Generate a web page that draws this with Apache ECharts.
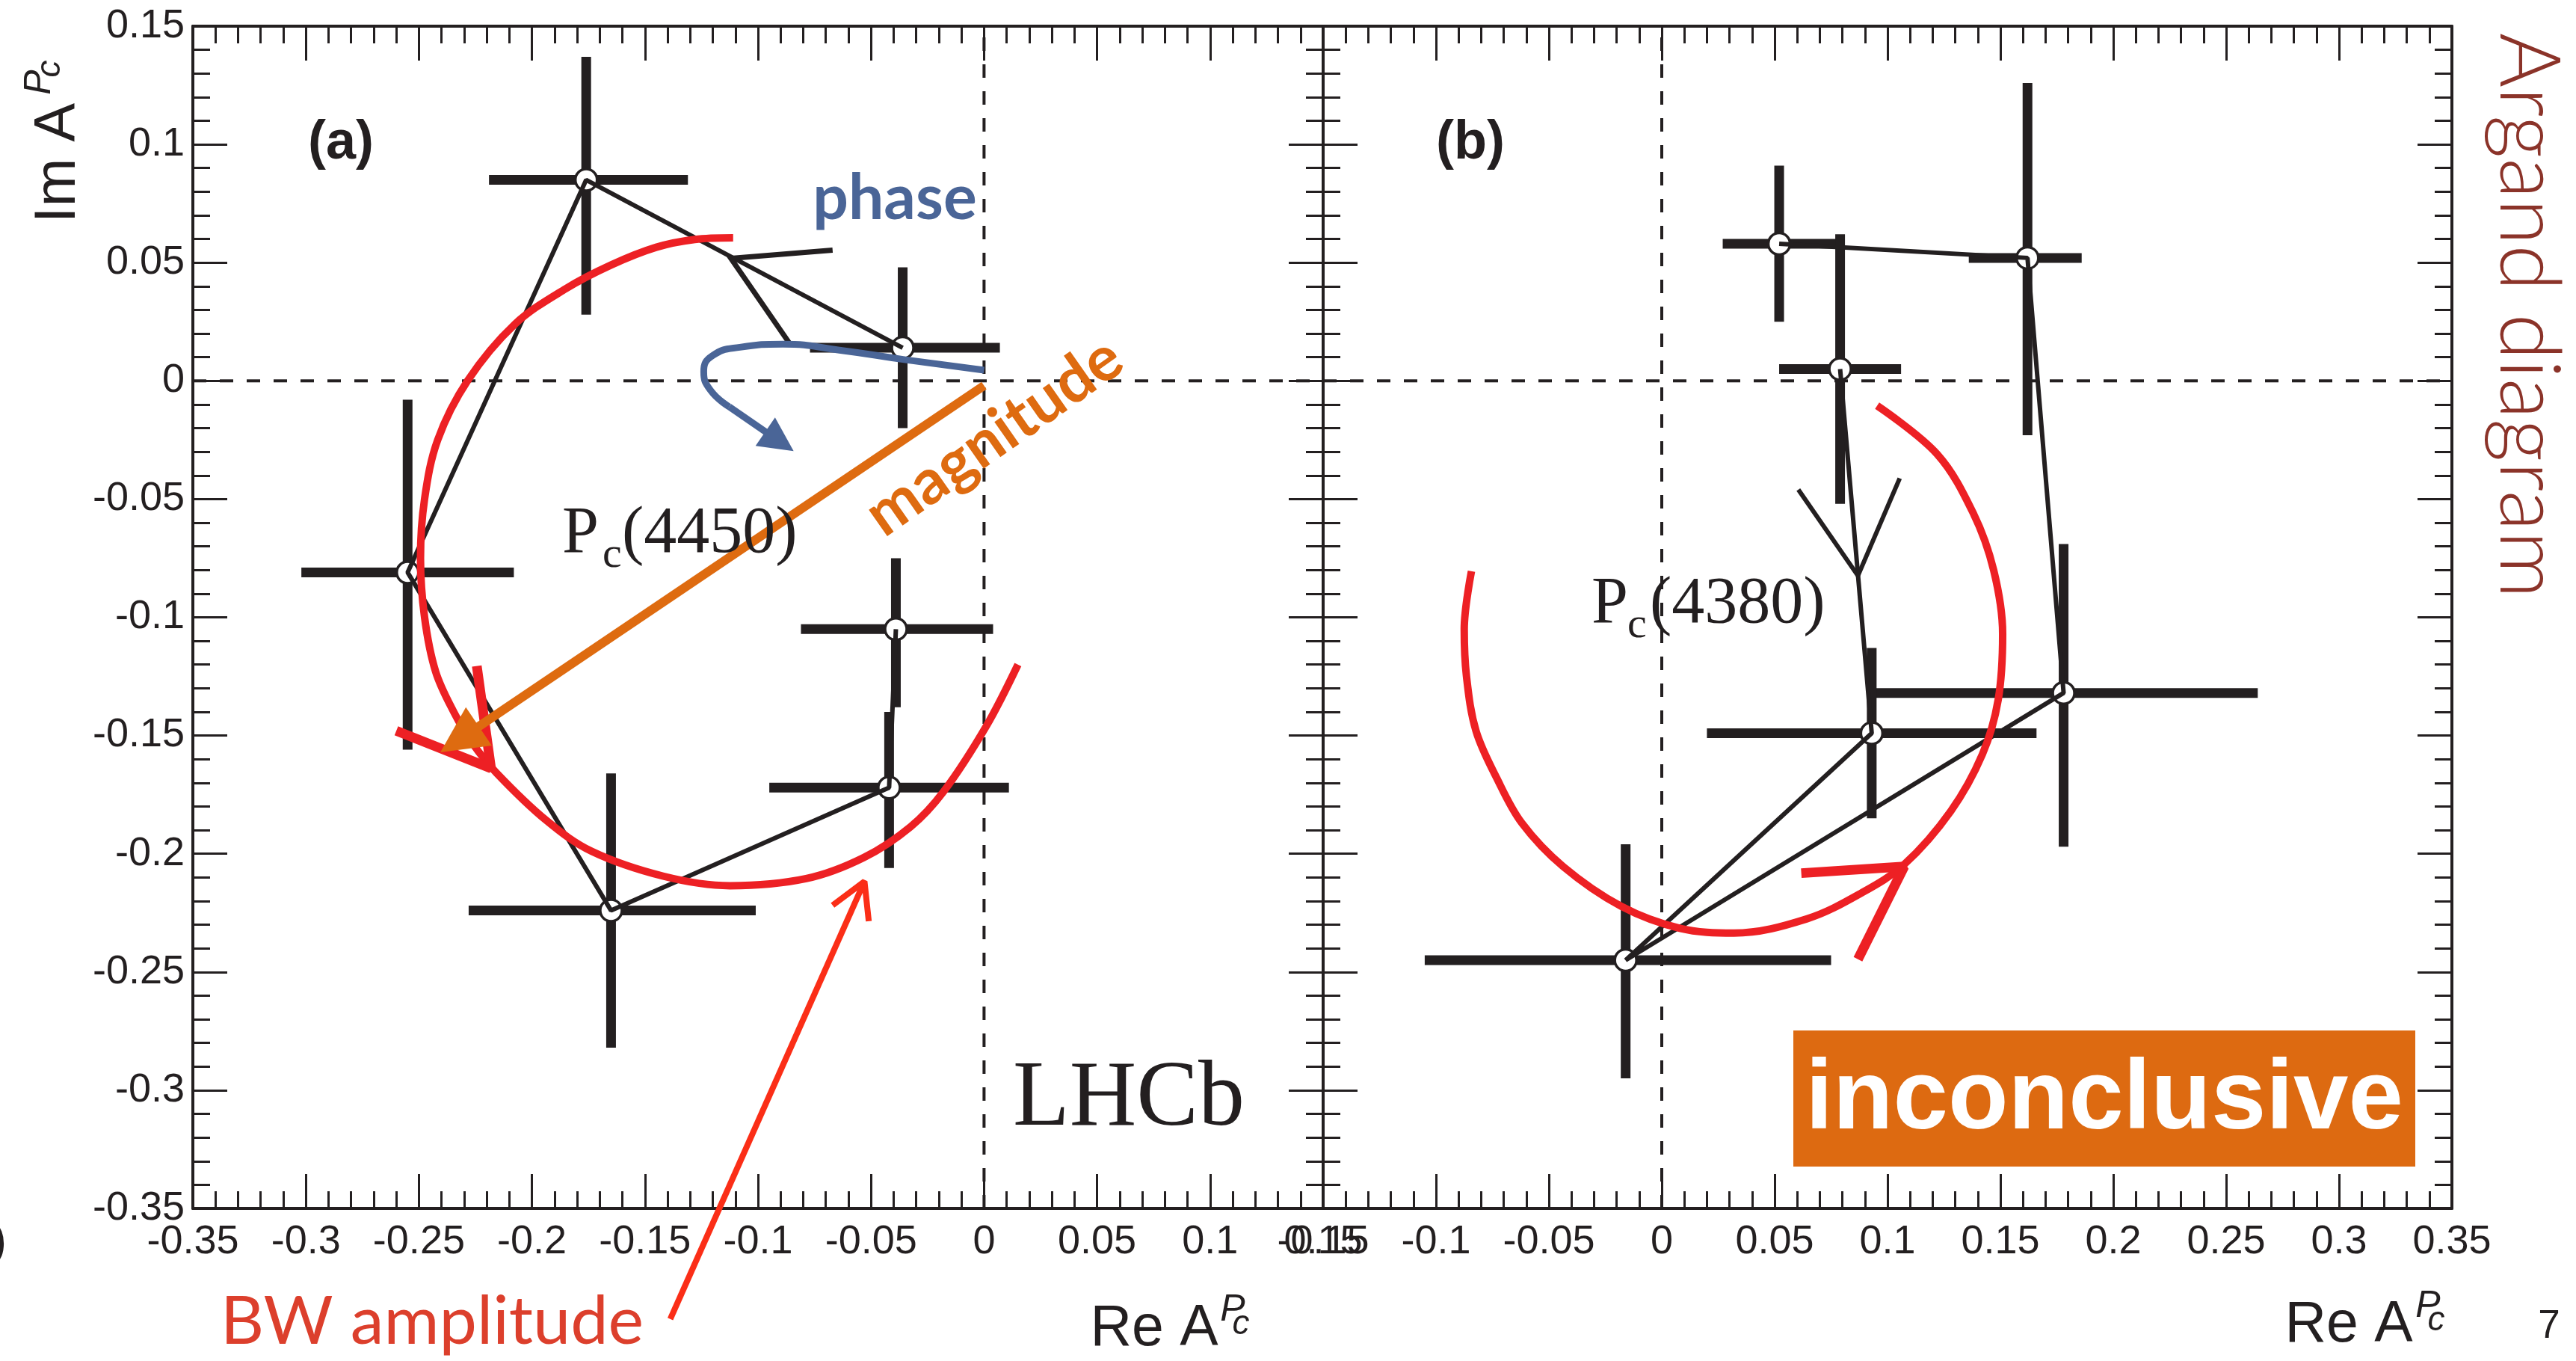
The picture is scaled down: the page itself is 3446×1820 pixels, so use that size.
<!DOCTYPE html>
<html>
<head>
<meta charset="utf-8">
<script src="https://cdn.jsdelivr.net/npm/echarts@6/dist/echarts.min.js"></script>
<style>
html, body { margin: 0; padding: 0; background: #fff; }
#chart { width: 3446px; height: 1820px; }
</style>
</head>
<body>
<div id="chart"></div>
<script>
// panel (a) Pc(4450): points in the order they are joined
var aRe   = [-0.036, -0.176, -0.255, -0.165, -0.042, -0.039];
var aIm   = [ 0.014,  0.085, -0.081, -0.224, -0.172, -0.105];
var aReLo = [-0.077, -0.219, -0.302, -0.228, -0.095, -0.081];
var aReHi = [ 0.007, -0.131, -0.208, -0.101,  0.011,  0.004];
var aImLo = [-0.020,  0.028, -0.156, -0.282, -0.206, -0.138];
var aImHi = [ 0.048,  0.137, -0.008, -0.166, -0.140, -0.075];

// panel (b) Pc(4380)
var bRe   = [0.052, 0.162,  0.178, -0.016,  0.093,  0.079];
var bIm   = [0.058, 0.052, -0.132, -0.245, -0.149,  0.005];
var bReLo = [0.027, 0.136,  0.093, -0.105,  0.020,  0.052];
var bReHi = [0.079, 0.186,  0.264,  0.075,  0.166,  0.106];
var bImLo = [0.025, -0.023, -0.197, -0.295, -0.185, -0.052];
var bImHi = [0.091, 0.126, -0.069, -0.196, -0.113,  0.062];

// axis ranges
var xRangeA = [-0.35, 0.15];
var xRangeB = [-0.15, 0.35];
var yRange  = [-0.35, 0.15];

// hand drawn BW circles
var bwA = [[-0.111, 0.0605], [-0.128, 0.0598], [-0.145, 0.0565], [-0.165, 0.049], [-0.185, 0.039],
    [-0.2075, 0.024], [-0.2285, 0.0], [-0.2417, -0.025], [-0.2475, -0.050], [-0.2493, -0.075],
    [-0.2475, -0.100], [-0.2426, -0.123], [-0.2346, -0.140], [-0.2265, -0.153],
    [-0.2155, -0.166], [-0.1935, -0.186], [-0.1735, -0.199], [-0.1418, -0.2095], [-0.1124, -0.2135],
    [-0.0787, -0.2105], [-0.0532, -0.2016], [-0.0324, -0.1885], [-0.0179, -0.1737], [0.001, -0.146],
    [0.015, -0.120]];
var bwB = [[0.0954, -0.0105], [0.122, -0.031], [0.138, -0.056], [0.147, -0.080], [0.151, -0.107],
    [0.149, -0.135], [0.142, -0.158], [0.128, -0.182], [0.1074, -0.2045], [0.0886, -0.2165],
    [0.0643, -0.2275], [0.032, -0.2335], [0.008, -0.2315], [-0.018, -0.2222],
    [-0.0437, -0.2054], [-0.062, -0.187], [-0.0731, -0.168], [-0.0823, -0.148], [-0.0865, -0.125],
    [-0.0875, -0.105], [-0.0843, -0.0805]];
var bwHeadA = [[-0.260, -0.148], [-0.2181, -0.1639], [-0.2244, -0.1206]];
var bwHeadB = [[0.0618, -0.2082], [0.1074, -0.2054], [0.0869, -0.2446]];

// black direction arrows
var dirHeadA = [[-0.067, 0.0553], [-0.112, 0.0518], [-0.0862, 0.0161]];
var dirHeadB = [[0.0605, -0.046], [0.0869, -0.0824], [0.1054, -0.0412]];

// annotations
var magnitude = [[0.0, -0.002], [-0.232, -0.1516]];
var phaseCurve = [[0.0, 0.0045], [-0.0347, 0.0089], [-0.064, 0.013], [-0.089, 0.0155], [-0.108, 0.0142],
    [-0.1202, 0.0106], [-0.124, 0.0039], [-0.121, -0.004], [-0.1127, -0.011]];
var phaseTip = [[-0.1127, -0.011], [-0.0905, -0.0256]];
var bwPointer = [[-0.1388, -0.3968], [-0.0529, -0.2117]];
var bwPointerHead = [[-0.067, -0.2218], [-0.0529, -0.2117], [-0.051, -0.2285]];

var INK = '#231f20';
var RED = '#ed2024';
var ORANGE = '#de6b10';
var BLUE = '#4a6597';

function rows(re, im, rl, rh, il, ih) {
    return re.map(function (v, i) {
        return [v, im[i], rl[i], rh[i], il[i], ih[i]];
    });
}

function pairs(re, im) {
    return re.map(function (v, i) { return [v, im[i]]; });
}

function xAxisOpt(gi, pos, range, labels) {
    return {
        type: 'value', gridIndex: gi, position: pos,
        min: range[0], max: range[1], interval: 0.05,
        axisLine: {show: true, onZero: false, lineStyle: {color: INK, width: 4}},
        axisTick: {show: true, inside: true, length: 46, lineStyle: {color: INK, width: 3}},
        minorTick: {show: true, splitNumber: 5, length: 23, lineStyle: {color: INK, width: 3}},
        splitLine: {show: false},
        axisLabel: {
            show: labels, margin: 18, color: INK, fontSize: 54,
            fontFamily: 'Liberation Sans', showMinLabel: true, showMaxLabel: true
        }
    };
}

function yAxisOpt(gi, pos, labels) {
    var o = xAxisOpt(gi, pos, yRange, labels);
    o.axisLabel.margin = 11;
    return o;
}

function renderBars(params, api) {
    var x = api.value(0), y = api.value(1);
    var l = api.coord([api.value(2), y]), r = api.coord([api.value(3), y]);
    var b = api.coord([x, api.value(4)]), t = api.coord([x, api.value(5)]);
    var st = {stroke: INK, lineWidth: 13};
    return {
        type: 'group', children: [
            {type: 'line', shape: {x1: l[0], y1: l[1], x2: r[0], y2: r[1]}, style: st},
            {type: 'line', shape: {x1: b[0], y1: b[1], x2: t[0], y2: t[1]}, style: st}
        ]
    };
}

function poly(idx, data, color, width, z, extra) {
    var s = {
        type: 'line', xAxisIndex: idx, yAxisIndex: idx, data: data,
        showSymbol: false, symbol: 'none', clip: false, silent: true, z: z,
        lineStyle: {color: color, width: width}, animation: false
    };
    for (var k in extra) s[k] = extra[k];
    return s;
}

function arrow(idx, coords, color, width, size, z) {
    return {
        type: 'lines', coordinateSystem: 'cartesian2d', xAxisIndex: idx, yAxisIndex: idx,
        data: [{coords: coords}], symbol: ['none', 'triangle'], symbolSize: size, z: z,
        lineStyle: {color: color, width: width, opacity: 1, curveness: 0},
        itemStyle: {color: color, opacity: 1}, silent: true, animation: false
    };
}

function panel(idx, xr, re, im, rl, rh, il, ih) {
    var dash = {color: INK, width: 4, type: [18, 18]};
    return [
        poly(idx, [[xr[0], 0], [xr[1], 0]], INK, 4, 1, {lineStyle: dash}),
        poly(idx, [[0, yRange[0]], [0, yRange[1]]], INK, 4, 1, {lineStyle: dash}),
        {
            type: 'custom', xAxisIndex: idx, yAxisIndex: idx, z: 2, silent: true,
            data: rows(re, im, rl, rh, il, ih), renderItem: renderBars, animation: false
        },
        {
            type: 'scatter', xAxisIndex: idx, yAxisIndex: idx, z: 3, silent: true,
            data: pairs(re, im), symbol: 'circle', symbolSize: 29,
            itemStyle: {color: '#ffffff', opacity: 1, borderColor: INK, borderWidth: 3.5}, animation: false
        },
        poly(idx, pairs(re, im), INK, 6, 4)
    ];
}

var series = []
    .concat(panel(0, xRangeA, aRe, aIm, aReLo, aReHi, aImLo, aImHi))
    .concat(panel(2, xRangeB, bRe, bIm, bReLo, bReHi, bImLo, bImHi));

series.push(poly(0, dirHeadA, INK, 7, 4, {lineStyle: {color: INK, width: 7, join: 'miter'}}));
series.push(poly(2, dirHeadB, INK, 6, 4, {lineStyle: {color: INK, width: 6, join: 'miter'}}));
series.push(poly(0, bwA, RED, 10, 5, {smooth: 0.35}));
series.push(poly(2, bwB, RED, 10, 5, {smooth: 0.35}));
series.push(poly(0, bwHeadA, RED, 13, 5));
series.push(poly(2, bwHeadB, RED, 13, 5));
series.push(arrow(0, magnitude, ORANGE, 12, [63, 62], 6));
series.push(poly(0, phaseCurve, BLUE, 9, 6, {smooth: 0.5}));
series.push(arrow(0, phaseTip, BLUE, 9, [44, 46], 6));
series.push(poly(0, bwPointer, '#fb2e17', 8, 6));
series.push(poly(0, bwPointerHead, '#fb2e17', 8, 6));

function txt(x, y, text, size, opt) {
    opt = opt || {};
    return {
        type: 'text', x: x, y: y, rotation: opt.rotation || 0, z: 100, silent: true,
        style: {
            text: text, fill: opt.color || INK, fontSize: size,
            fontFamily: opt.family || 'Liberation Sans',
            fontWeight: opt.weight || 'normal', fontStyle: opt.style || 'normal',
            align: opt.align || 'center', textAlign: opt.align || 'center',
            verticalAlign: 'middle', textVerticalAlign: 'middle'
        }
    };
}

var serif = 'Liberation Serif';
var graphic = [
    {
        type: 'rect', shape: {x: 2399, y: 1378, width: 832, height: 182},
        style: {fill: '#dd6a11'}, z: 99, silent: true
    },
    txt(2815, 1473, 'inconclusive', 132, {color: '#fff', weight: 'bold'}),
    txt(1510, 1471, 'LHCb', 124, {family: serif}),
    txt(456, 192, '(a)', 72, {weight: 'bold'}),
    txt(1967, 192, '(b)', 72, {weight: 'bold'}),
    txt(752, 715, 'P', 88, {family: serif, align: 'left'}),
    txt(806, 743, 'c', 58, {family: serif, align: 'left'}),
    txt(832, 715, '(4450)', 88, {family: serif, align: 'left'}),
    txt(2129, 809, 'P', 88, {family: serif, align: 'left'}),
    txt(2177, 837, 'c', 58, {family: serif, align: 'left'}),
    txt(2207, 809, '(4380)', 88, {family: serif, align: 'left'}),
    txt(1197, 266, 'phase', 84, {family: 'Lato', weight: 'bold', color: BLUE}),
    txt(1330, 584, 'magnitude', 84, {family: 'Lato', weight: 'bold', color: ORANGE, rotation: 35 * Math.PI / 180}),
    txt(578, 1768, 'BW amplitude', 90, {family: 'Lato', color: '#dc3f2c'}),
    txt(3381, 422, 'Argand diagram', 112, {family: 'Lato', weight: 300, color: '#8b3329', rotation: -Math.PI / 2}),
    // axis titles
    txt(78, 218, 'Im A', 78, {rotation: Math.PI / 2}),
    txt(53, 110, 'P', 50, {style: 'italic', rotation: Math.PI / 2}),
    txt(67, 92, 'c', 46, {style: 'italic', rotation: Math.PI / 2}),
    txt(1544, 1778, 'Re A', 77),
    txt(1649, 1752, 'P', 50, {style: 'italic'}),
    txt(1660, 1771, 'c', 46, {style: 'italic'}),
    txt(3142, 1773, 'Re A', 77),
    txt(3248, 1747, 'P', 50, {style: 'italic'}),
    txt(3259, 1766, 'c', 46, {style: 'italic'}),
    txt(3410, 1774, '7', 53),
    txt(9, 1662, ')', 64, {align: 'right'})
];

var chart = echarts.init(document.getElementById('chart'));
chart.setOption({
    backgroundColor: '#fff',
    animation: false,
    grid: [
        {left: 258, top: 35, width: 1512, height: 1581, containLabel: false, outerBoundsMode: 'none'},
        {left: 1770, top: 35, width: 1510, height: 1581, containLabel: false, outerBoundsMode: 'none'}
    ],
    xAxis: [
        xAxisOpt(0, 'bottom', xRangeA, true),
        xAxisOpt(0, 'top', xRangeA, false),
        xAxisOpt(1, 'bottom', xRangeB, true),
        xAxisOpt(1, 'top', xRangeB, false)
    ],
    yAxis: [
        yAxisOpt(0, 'left', true),
        yAxisOpt(0, 'right', false),
        yAxisOpt(1, 'left', false),
        yAxisOpt(1, 'right', false)
    ],
    series: series,
    graphic: graphic
});
</script>
</body>
</html>
